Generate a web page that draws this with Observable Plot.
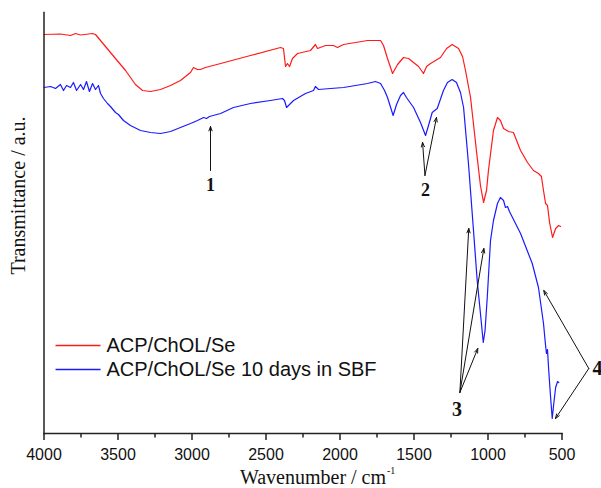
<!DOCTYPE html>
<html>
<head>
<meta charset="utf-8">
<script src="https://cdn.jsdelivr.net/npm/d3@7"></script>
<script src="https://cdn.jsdelivr.net/npm/@observablehq/plot@0.6"></script>
<style>
  html, body { margin: 0; padding: 0; background: #fff; }
  #chart svg { display: block; }
</style>
</head>
<body>
<div id="chart"></div>
<script>
// ---- Data (wavenumber in cm^-1, transmittance in arbitrary units) ----
const redWn = [4000,3889,3821,3787,3753,3672,3652,3551,3449,3382,3334,3280,3213,3145,3078,3010,2990,2963,2943,2909,2806,2605,2402,2382,2368,2355,2341,2321,2287,2199,2166,2152,2098,2044,2017,1976,1814,1726,1706,1679,1645,1611,1571,1537,1503,1469,1436,1415,1388,1321,1280,1242,1199,1172,1152,1118,1073,1051,1030,1010,997,963,936,916,895,861,828,780,733,693,659,639,625,611,598,584,564,543,523,510];
const redT  = [400,400.5,399,401,399.5,401,400,382,364,350,344,343,345,349,354,362,367,365,365,367,371,379,387,386,368,371,368,376,381,384,390,386,389,389,387,390,394,394,389,376,361,370,377,376,372,368,361,368,371,377,386,390,386,378,364,337,277,249,232,244,264,304,317,314,306,303,302,284,272,264,261,258,244,231,229,212,197,206,209,208];

const blueWn = [4000,3956,3922,3889,3868,3848,3821,3801,3780,3753,3733,3713,3693,3672,3652,3632,3618,3598,3571,3551,3517,3497,3463,3416,3348,3280,3213,3145,3078,3010,2963,2922,2902,2882,2807,2720,2605,2470,2389,2375,2361,2341,2314,2233,2179,2166,2145,2064,1976,1895,1814,1760,1726,1699,1679,1641,1618,1591,1571,1551,1503,1456,1422,1402,1377,1343,1301,1274,1242,1213,1186,1165,1132,1098,1073,1051,1032,1020,1005,983,963,936,916,895,882,868,855,780,701,659,625,611,605,598,591,578,566,557,543,530,522];
const blueT  = [347,348,346,350,344,349,347,352,344,350,345,353,343,351,345,349,341,336,331,328,322,320,314,309,304,302,301,303,307,311,314,317,316,318,321,327,331,334,336,334,327,330,334,341,344,348,345,346,347,349,351,353,351,344,337,319,330,339,342,337,327,312,299,309,322,326,344,352,355,352,342,327,271,204,154,121,92,104,137,194,214,231,237,234,227,228,223,201,171,147,111,89,81,85,67,39,16,29,47,53,52];

const seriesNames = ["ACP/ChOL/Se", "ACP/ChOL/Se 10 days in SBF"];
const seriesColors = ["#ff1a1a", "#1a1aff"];

const majorTicks = [4000, 3500, 3000, 2500, 2000, 1500, 1000, 500];
const minorTicks = [3750, 3250, 2750, 2250, 1750, 1250, 750];

// annotation arrows (from label point to band)
const arrowFromWn = [2875, 1426, 1426, 1190, 1190, 1190, 319, 319];
const arrowFromT  = [264, 259, 259, 42, 42, 42, 66, 66];
const arrowToWn   = [2875, 1442, 1348, 1130, 1028, 1069, 623, 544];
const arrowToT    = [308, 292, 317, 206, 186, 86, 144, 16];

const bandLabels = ["1", "2", "3", "4"];
const bandLabelWn = [2875, 1422, 1209, 294];
const bandLabelT  = [249, 244, 25, 66];
const bandLabelSize = [18, 18, 20, 20];
const bandLabelAnchor = ["middle", "middle", "middle", "start"];

// legend placement (in data units)
const legendWn = [3922, 3618, 3578];
const legendT = [89, 65];

// ---- Build tables ----
const red = redWn.map((w, i) => ({wn: w, t: redT[i]}));
const blue = blueWn.map((w, i) => ({wn: w, t: blueT[i]}));
const arrows = arrowFromWn.map((w, i) => ({x1: w, y1: arrowFromT[i], x2: arrowToWn[i], y2: arrowToT[i]}));
const labels = bandLabels.map((s, i) => ({s, wn: bandLabelWn[i], t: bandLabelT[i], fs: bandLabelSize[i], anchor: bandLabelAnchor[i]}));
const legend = seriesNames.map((n, i) => ({name: n, color: seriesColors[i], x1: legendWn[0], x2: legendWn[1], xt: legendWn[2], y: legendT[i]}));

const serif = "Liberation Serif, Times New Roman, serif";
const sans = "Liberation Sans, Arial, sans-serif";

const chart = Plot.plot({
  width: 601,
  height: 488,
  marginLeft: 43.5,
  marginRight: 39.5,
  marginTop: 12,
  marginBottom: 55,
  style: {fontFamily: sans, background: "#fff", overflow: "visible"},
  x: {domain: [4000, 500], label: null},
  y: {domain: [1, 422], axis: null, label: null},
  marks: [
    Plot.line(red, {x: "wn", y: "t", stroke: seriesColors[0], strokeWidth: 1.2}),
    Plot.line(blue, {x: "wn", y: "t", stroke: seriesColors[1], strokeWidth: 1.2}),
    Plot.frame({anchor: "left", stroke: "#222", strokeWidth: 1.5}),
    Plot.frame({anchor: "bottom", stroke: "#222", strokeWidth: 1.5}),
    Plot.axisX({ticks: majorTicks, tickSize: 7, tickPadding: 8, tickFormat: d => String(d),
      fontSize: 16, fontFamily: sans, stroke: "#222", strokeWidth: 1.5, fill: "#111", label: null}),
    Plot.axisX({ticks: minorTicks, tickSize: 4.5, tickFormat: () => "", stroke: "#222", strokeWidth: 1.5, label: null}),
    Plot.arrow(arrows, {x1: "x1", y1: "y1", x2: "x2", y2: "y2", stroke: "#111", strokeWidth: 1, headLength: 7, headAngle: 40}),
    Plot.text(labels.filter(d => d.anchor === "middle"), {x: "wn", y: "t", text: "s", fontSize: d => d.fs, fontFamily: serif, fontWeight: "bold", fill: "#111", textAnchor: "middle"}),
    Plot.text(labels.filter(d => d.anchor === "start"), {x: "wn", y: "t", text: "s", fontSize: 20, fontFamily: serif, fontWeight: "bold", fill: "#111", textAnchor: "start"}),
    Plot.link(legend, {x1: "x1", x2: "x2", y1: "y", y2: "y", stroke: "color", strokeWidth: 1.5}),
    Plot.text(legend, {x: "xt", y: "y", text: "name", textAnchor: "start", fontSize: 20, fontFamily: sans, fill: "#111"}),
    Plot.text(["Wavenumber / cm"], {frameAnchor: "bottom", lineAnchor: "middle", textAnchor: "middle", dx: 10, dy: 44.5, fontSize: 20, fontFamily: serif, fill: "#111"}),
    Plot.text(["-1"], {frameAnchor: "bottom", lineAnchor: "middle", dx: 84, dy: 37, fontSize: 10, fontFamily: serif, fill: "#111", textAnchor: "start"}),
    Plot.text(["Transmittance / a.u."], {frameAnchor: "left", lineAnchor: "middle", textAnchor: "middle", dx: -25.5, dy: -27.5, rotate: -90, fontSize: 20, fontFamily: serif, fill: "#111"})
  ]
});
document.getElementById("chart").appendChild(chart);
</script>
</body>
</html>
